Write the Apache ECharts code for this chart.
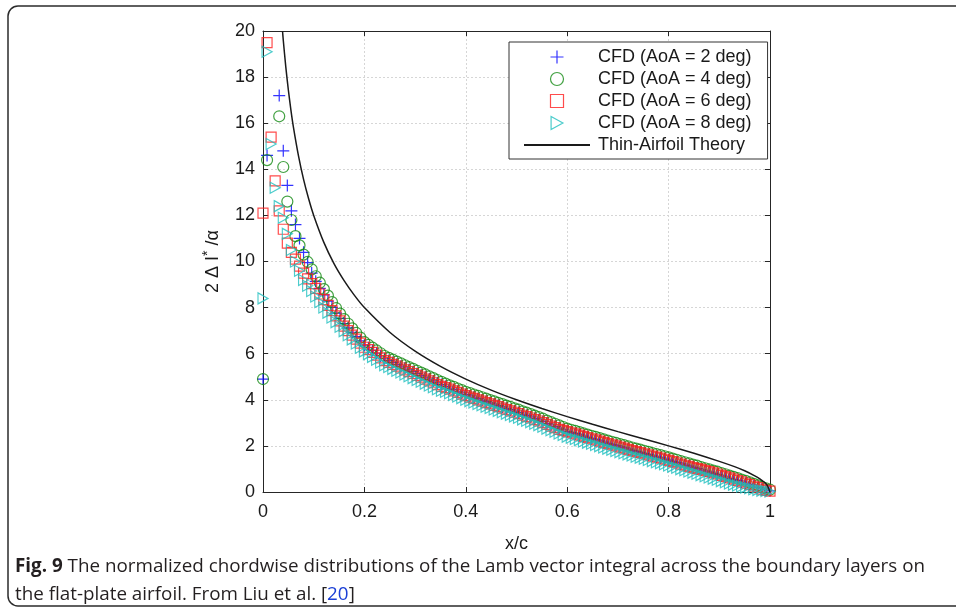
<!DOCTYPE html>
<html>
<head>
<meta charset="utf-8">
<script src="https://cdn.jsdelivr.net/npm/echarts@6.0.0/dist/echarts.min.js"></script>
<style>
  html, body { margin: 0; padding: 0; background: #fff; }
  #chart { width: 956px; height: 613px; }
</style>
</head>
<body>
<div id="chart"></div>
<script>
// chordwise stations x/c
const xs = [
  0.000, 0.008, 0.016, 0.024, 0.032, 0.040, 0.048, 0.056, 0.064, 0.072,
  0.080, 0.088, 0.096, 0.104, 0.112, 0.120, 0.128, 0.136, 0.144, 0.152,
  0.160, 0.168, 0.176, 0.184, 0.192, 0.200, 0.208, 0.216, 0.224, 0.232,
  0.240, 0.248, 0.256, 0.264, 0.272, 0.280, 0.288, 0.296, 0.304, 0.312,
  0.320, 0.328, 0.336, 0.344, 0.352, 0.360, 0.368, 0.376, 0.384, 0.392,
  0.400, 0.408, 0.416, 0.424, 0.432, 0.440, 0.448, 0.456, 0.464, 0.472,
  0.480, 0.488, 0.496, 0.504, 0.512, 0.520, 0.528, 0.536, 0.544, 0.552,
  0.560, 0.568, 0.576, 0.584, 0.592, 0.600, 0.608, 0.616, 0.624, 0.632,
  0.640, 0.648, 0.656, 0.664, 0.672, 0.680, 0.688, 0.696, 0.704, 0.712,
  0.720, 0.728, 0.736, 0.744, 0.752, 0.760, 0.768, 0.776, 0.784, 0.792,
  0.800, 0.808, 0.816, 0.824, 0.832, 0.840, 0.848, 0.856, 0.864, 0.872,
  0.880, 0.888, 0.896, 0.904, 0.912, 0.920, 0.928, 0.936, 0.944, 0.952,
  0.960, 0.968, 0.976, 0.984, 0.992, 1.000
];

// CFD, AoA = 2 deg (null = above the top of the plot)
const aoa2 = [
  4.9, 14.6, null, null, 17.2, 14.8, 13.3, 12.2, 11.6, 11.0,
  10.4, 9.95, 9.5, 9.14, 8.83, 8.55, 8.28, 8.01, 7.76, 7.53,
  7.31, 7.12, 6.93, 6.74, 6.56, 6.37, 6.26, 6.14, 6.02, 5.9,
  5.78, 5.7, 5.62, 5.54, 5.46, 5.38, 5.3, 5.22, 5.14, 5.06,
  4.98, 4.9, 4.82, 4.74, 4.66, 4.58, 4.51, 4.44, 4.37, 4.3,
  4.23, 4.17, 4.11, 4.05, 3.99, 3.93, 3.87, 3.81, 3.75, 3.69,
  3.63, 3.57, 3.51, 3.45, 3.38, 3.32, 3.26, 3.19, 3.13, 3.06,
  2.98, 2.91, 2.84, 2.77, 2.7, 2.63, 2.58, 2.53, 2.48, 2.42,
  2.37, 2.32, 2.27, 2.22, 2.16, 2.11, 2.06, 2.01, 1.96, 1.91,
  1.86, 1.81, 1.76, 1.72, 1.67, 1.62, 1.57, 1.52, 1.48, 1.43,
  1.38, 1.33, 1.28, 1.22, 1.17, 1.12, 1.07, 1.02, 0.96, 0.91,
  0.86, 0.81, 0.76, 0.7, 0.65, 0.59, 0.54, 0.49, 0.43, 0.38,
  0.32, 0.26, 0.2, 0.14, 0.09, 0.05
];

// CFD, AoA = 4 deg
const aoa4 = [
  4.9, 14.4, null, null, 16.3, 14.1, 12.6, 11.8, 11.1, 10.7,
  10.3, 9.98, 9.66, 9.36, 9.08, 8.8, 8.52, 8.24, 7.98, 7.74,
  7.5, 7.3, 7.1, 6.9, 6.7, 6.5, 6.38, 6.26, 6.14, 6.02,
  5.9, 5.82, 5.74, 5.66, 5.58, 5.5, 5.42, 5.34, 5.26, 5.18,
  5.1, 5.02, 4.94, 4.86, 4.78, 4.7, 4.63, 4.56, 4.49, 4.42,
  4.35, 4.29, 4.23, 4.17, 4.11, 4.05, 3.99, 3.93, 3.87, 3.81,
  3.75, 3.69, 3.63, 3.57, 3.5, 3.44, 3.38, 3.31, 3.25, 3.18,
  3.1, 3.03, 2.96, 2.89, 2.82, 2.75, 2.7, 2.65, 2.6, 2.54,
  2.49, 2.44, 2.39, 2.34, 2.28, 2.23, 2.18, 2.13, 2.08, 2.03,
  1.98, 1.93, 1.88, 1.84, 1.79, 1.74, 1.69, 1.64, 1.6, 1.55,
  1.5, 1.45, 1.4, 1.34, 1.29, 1.24, 1.19, 1.14, 1.08, 1.03,
  0.98, 0.93, 0.88, 0.82, 0.77, 0.71, 0.66, 0.6, 0.54, 0.48,
  0.42, 0.35, 0.29, 0.22, 0.16, 0.1
];

// CFD, AoA = 6 deg
const aoa6 = [
  12.1, 19.5, 15.4, 13.5, 12.2, 11.4, 10.8, 10.4, 10.1, 9.8,
  9.5, 9.25, 9.04, 8.83, 8.59, 8.35, 8.1, 7.87, 7.64, 7.42,
  7.2, 7.0, 6.81, 6.63, 6.46, 6.28, 6.18, 6.06, 5.94, 5.82,
  5.7, 5.62, 5.54, 5.46, 5.38, 5.3, 5.22, 5.14, 5.06, 4.98,
  4.9, 4.82, 4.74, 4.66, 4.58, 4.53, 4.46, 4.39, 4.32, 4.25,
  4.18, 4.12, 4.06, 4.0, 3.94, 3.88, 3.82, 3.76, 3.7, 3.64,
  3.58, 3.52, 3.46, 3.4, 3.33, 3.27, 3.21, 3.14, 3.08, 3.01,
  2.93, 2.86, 2.79, 2.72, 2.67, 2.62, 2.57, 2.52, 2.47, 2.41,
  2.36, 2.31, 2.26, 2.21, 2.15, 2.1, 2.05, 2.0, 1.95, 1.9,
  1.85, 1.8, 1.75, 1.71, 1.66, 1.61, 1.56, 1.51, 1.47, 1.42,
  1.37, 1.32, 1.27, 1.21, 1.16, 1.11, 1.06, 1.01, 0.98, 0.93,
  0.88, 0.83, 0.78, 0.72, 0.67, 0.61, 0.56, 0.5, 0.44, 0.38,
  0.32, 0.25, 0.19, 0.12, 0.07, 0.04
];

// CFD, AoA = 8 deg
const aoa8 = [
  8.4, 19.1, 15.1, 13.2, 12.4, 11.9, 11.2, 10.5, 10.0, 9.6,
  9.2, 8.95, 8.72, 8.48, 8.24, 8.0, 7.78, 7.57, 7.37, 7.17,
  6.98, 6.8, 6.62, 6.44, 6.26, 6.1, 5.98, 5.86, 5.74, 5.62,
  5.5, 5.42, 5.34, 5.26, 5.18, 5.1, 5.02, 4.94, 4.86, 4.78,
  4.7, 4.62, 4.54, 4.46, 4.39, 4.35, 4.28, 4.21, 4.14, 4.07,
  4.0, 3.94, 3.88, 3.82, 3.76, 3.7, 3.64, 3.58, 3.52, 3.46,
  3.4, 3.34, 3.28, 3.22, 3.15, 3.09, 3.03, 2.96, 2.9, 2.83,
  2.75, 2.68, 2.61, 2.54, 2.47, 2.4, 2.35, 2.3, 2.25, 2.19,
  2.14, 2.09, 2.04, 1.99, 1.93, 1.88, 1.83, 1.78, 1.73, 1.68,
  1.63, 1.58, 1.53, 1.49, 1.44, 1.39, 1.34, 1.29, 1.25, 1.2,
  1.15, 1.1, 1.05, 0.99, 0.94, 0.89, 0.84, 0.79, 0.73, 0.68,
  0.63, 0.58, 0.53, 0.47, 0.42, 0.37, 0.32, 0.28, 0.24, 0.2,
  0.16, 0.12, 0.09, 0.06, 0.04, 0.02
];

// thin-airfoil theory curve
const theoryX = [0.0385, 0.04, 0.045, 0.05, 0.055, 0.06, 0.07, 0.08, 0.09, 0.10,
  0.12, 0.14, 0.16, 0.18, 0.20, 0.25, 0.30, 0.35, 0.40, 0.45, 0.50, 0.55, 0.60,
  0.65, 0.70, 0.75, 0.80, 0.85, 0.90, 0.93, 0.95, 0.97, 0.98, 0.99, 0.995, 1.0];
const theoryY = [20.0, 19.6, 18.43, 17.44, 16.58, 15.83, 14.58, 13.56, 12.72, 12.0,
  10.83, 9.91, 9.17, 8.54, 8.0, 6.93, 6.11, 5.45, 4.9, 4.42, 4.0, 3.62, 3.27,
  2.94, 2.62, 2.31, 2.0, 1.68, 1.33, 1.1, 0.92, 0.7, 0.57, 0.4, 0.28, 0.0];

const seriesNames = ["CFD (AoA = 2 deg)", "CFD (AoA = 4 deg)", "CFD (AoA = 6 deg)",
  "CFD (AoA = 8 deg)", "Thin-Airfoil Theory"];

const capBold = "Fig. 9";
const capLine1 = " The normalized chordwise distributions of the Lamb vector integral across the boundary layers on";
const capLine2 = "the flat-plate airfoil. From Liu et al. [";
const capRef = "20";

const fontAx = "Liberation Sans, Arial, sans-serif";
const fontCap = "Open Sans, sans-serif";
const axisCol = "#262626";

function pairs(ys) {
  return xs.map((x, i) => [x, ys[i]]).filter((p) => p[1] !== null);
}

// squeeze the caption to the width it has in the figure
const ctx = document.createElement("canvas").getContext("2d");
ctx.font = 'bold 19px "Open Sans"';
const wBold = ctx.measureText(capBold).width;
ctx.font = '19px "Open Sans"';
const wRest = ctx.measureText(capLine1).width;
const capScale = 910 / (wBold + wRest);

const chart = echarts.init(document.getElementById("chart"), null, { renderer: "canvas" });

function scatter(name, data, symbol, size, color) {
  return {
    name: name,
    type: "scatter",
    data: pairs(data),
    symbol: symbol,
    symbolSize: size,
    clip: false,
    itemStyle: { color: "rgba(0,0,0,0)", borderColor: color, borderWidth: 1.2 },
    emphasis: { disabled: true },
  };
}

const option = {
  animation: false,
  backgroundColor: "#fff",
  grid: { left: 263, top: 31, width: 507, height: 461, containLabel: false, outerBoundsMode: "none" },
  legend: {
    orient: "vertical",
    left: 509,
    top: 42,
    padding: [4, 16, 3, 14],
    itemWidth: 66,
    itemHeight: 13,
    itemGap: 0,
    backgroundColor: "#fff",
    borderColor: "#333",
    borderWidth: 1,
    borderRadius: 0,
    itemStyle: { borderWidth: 1.2 },
    textStyle: { fontSize: 18, fontFamily: fontAx, color: "#1a1a1a", lineHeight: 22, padding: [0, 0, 0, 3] },
    data: [
      seriesNames[0], seriesNames[1], seriesNames[2], seriesNames[3],
      { name: seriesNames[4], itemStyle: { opacity: 0, color: "rgba(0,0,0,0)", borderWidth: 0 } },
    ],
  },
  xAxis: [
    {
      type: "value", min: 0, max: 1, interval: 0.2, position: "bottom",
      axisLine: { show: true, onZero: false, lineStyle: { color: axisCol, width: 1 } },
      axisTick: { show: true, inside: true, length: 5, lineStyle: { color: axisCol } },
      axisLabel: { color: "#1a1a1a", fontSize: 18, fontFamily: fontAx, margin: 11 },
      splitLine: { show: true, lineStyle: { color: "#d6d6d6", type: [2, 2], width: 1 } },
      name: "x/c", nameLocation: "middle", nameGap: 43,
      nameTextStyle: { color: "#1a1a1a", fontSize: 18, fontFamily: fontAx },
    },
    {
      type: "value", min: 0, max: 1, interval: 0.2, position: "top",
      axisLine: { show: true, onZero: false, lineStyle: { color: axisCol, width: 1 } },
      axisTick: { show: true, inside: true, length: 5, lineStyle: { color: axisCol } },
      axisLabel: { show: false },
      splitLine: { show: false },
    },
  ],
  yAxis: [
    {
      type: "value", min: 0, max: 20, interval: 2, position: "left",
      axisLine: { show: true, onZero: false, lineStyle: { color: axisCol, width: 1 } },
      axisTick: { show: true, inside: true, length: 5, lineStyle: { color: axisCol } },
      axisLabel: { color: "#1a1a1a", fontSize: 18, fontFamily: fontAx, margin: 8 },
      splitLine: { show: true, lineStyle: { color: "#d6d6d6", type: [2, 2], width: 1 } },
      name: "{a|2 \u0394 I}{b|*}{a| /\u03b1}",
      nameLocation: "middle", nameGap: 38, nameRotate: 90,
      nameTextStyle: {
        color: "#1a1a1a", fontSize: 18, fontFamily: fontAx,
        rich: {
          a: { fontSize: 18, fontFamily: fontAx, color: "#1a1a1a" },
          b: { fontSize: 14, fontFamily: fontAx, color: "#1a1a1a", padding: [0, 0, 10, 0] },
        },
      },
    },
    {
      type: "value", min: 0, max: 20, interval: 2, position: "right",
      axisLine: { show: true, onZero: false, lineStyle: { color: axisCol, width: 1 } },
      axisTick: { show: true, inside: true, length: 5, lineStyle: { color: axisCol } },
      axisLabel: { show: false },
      splitLine: { show: false },
    },
  ],
  series: [
    scatter(seriesNames[0], aoa2, "path://M5,0L5,10M0,5L10,5", 12, "#0000ff"),
    scatter(seriesNames[1], aoa4, "circle", 11, "#138a13"),
    scatter(seriesNames[2], aoa6, "path://M0,0L10,0L10,10L0,10Z", 10, "#ff1f1f"),
    scatter(seriesNames[3], aoa8, "path://M0,0L10,5.5L0,11Z", [10, 11], "#1fbfbf"),
    {
      name: seriesNames[4],
      type: "line",
      data: theoryX.map((x, i) => [x, theoryY[i]]),
      symbol: "none",
      smooth: 0.2,
      lineStyle: { color: "#1a1a1a", width: 1.5 },
      itemStyle: { color: "#1a1a1a" },
      emphasis: { disabled: true },
    },
  ],
  graphic: [
    {
      type: "rect", silent: true, z: -1,
      shape: { x: 8, y: 6, width: 1000, height: 600, r: 10 },
      style: { fill: "none", stroke: "#2b2b2b", lineWidth: 1.5 },
    },
    {
      type: "text", x: 15, y: 567, scaleX: capScale,
      style: {
        text: "{b|" + capBold + "}{r|" + capLine1 + "}",
        verticalAlign: "middle",
        rich: {
          b: { fontSize: 19, fontFamily: fontCap, fontWeight: "bold", fill: "#231f20" },
          r: { fontSize: 19, fontFamily: fontCap, fill: "#231f20" },
        },
      },
    },
    {
      type: "text", x: 15, y: 595, scaleX: capScale,
      style: {
        text: "{r|" + capLine2 + "}{l|" + capRef + "}{r|]}",
        verticalAlign: "middle",
        rich: {
          r: { fontSize: 19, fontFamily: fontCap, fill: "#231f20" },
          l: { fontSize: 19, fontFamily: fontCap, fill: "#1a3fd6" },
        },
      },
    },
  ],
};

chart.setOption(option);
</script>
</body>
</html>
